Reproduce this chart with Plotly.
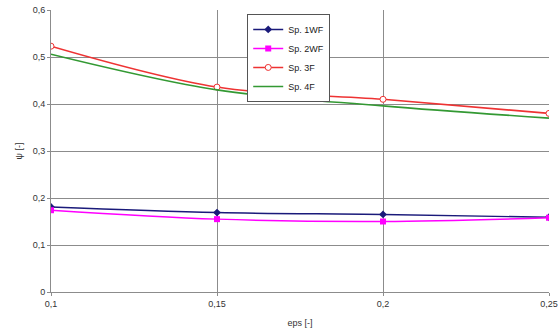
import plotly.graph_objects as go

eps = [0.1, 0.15, 0.2, 0.25]
sp_1wf = [0.181, 0.169, 0.165, 0.159]
sp_2wf = [0.174, 0.155, 0.150, 0.158]
sp_3f = [0.523, 0.436, 0.410, 0.380]
sp_4f = [0.506, 0.430, 0.396, 0.370]
x_ticks = [0.1, 0.15, 0.2, 0.25]
x_tick_labels = ["0,1", "0,15", "0,2", "0,25"]
y_ticks = [0, 0.1, 0.2, 0.3, 0.4, 0.5, 0.6]
y_tick_labels = ["0", "0,1", "0,2", "0,3", "0,4", "0,5", "0,6"]

FONT = "Liberation Sans, Arial"

fig = go.Figure()
fig.add_trace(go.Scatter(x=eps, y=sp_1wf, name="Sp. 1WF", mode="lines+markers",
                         line=dict(color="#1a1a7a", width=1.4, shape="spline"),
                         marker=dict(symbol="diamond", size=6, color="#1a1a7a")))
fig.add_trace(go.Scatter(x=eps, y=sp_2wf, name="Sp. 2WF", mode="lines+markers",
                         line=dict(color="#ff00ff", width=1.4, shape="spline"),
                         marker=dict(symbol="square", size=6, color="#ff00ff")))
fig.add_trace(go.Scatter(x=eps, y=sp_3f, name="Sp. 3F", mode="lines+markers",
                         line=dict(color="#ee3333", width=1.6, shape="spline"),
                         marker=dict(symbol="circle", size=6, color="white",
                                     line=dict(color="#ee3333", width=1))))
fig.add_trace(go.Scatter(x=eps, y=sp_4f, name="Sp. 4F", mode="lines",
                         line=dict(color="#339933", width=1.6, shape="spline")))

axis_common = dict(showgrid=True, gridcolor="#8c8c8c", gridwidth=1,
                   showline=True, linecolor="#8c8c8c", linewidth=1,
                   ticks="outside", ticklen=3, tickcolor="#8c8c8c",
                   tickfont=dict(family=FONT, size=9, color="#333333"),
                   zeroline=False, automargin=False)

fig.update_layout(
    width=559, height=331,
    margin=dict(l=51, r=10, t=10, b=39),
    paper_bgcolor="white", plot_bgcolor="white",
    font=dict(family=FONT, size=9, color="#333333"),
    xaxis=dict(range=[0.1, 0.25], tickvals=x_ticks, ticktext=x_tick_labels,
               title=dict(text="eps [-]", standoff=11, font=dict(size=9)), **axis_common),
    yaxis=dict(range=[0, 0.6], tickvals=y_ticks, ticktext=y_tick_labels,
               title=dict(text="ψ [-]", standoff=8, font=dict(size=9)), **axis_common),
    legend=dict(x=0.394, y=0.986, xanchor="left", yanchor="top",
                bgcolor="white", bordercolor="#555555", borderwidth=1,
                font=dict(size=9, color="#222222"), tracegroupgap=0,
                itemwidth=30),
    showlegend=True,
)

fig.write_html("out.html", config={"displayModeBar": False},
               post_script="document.body.style.margin='0';document.body.style.padding='0';")
